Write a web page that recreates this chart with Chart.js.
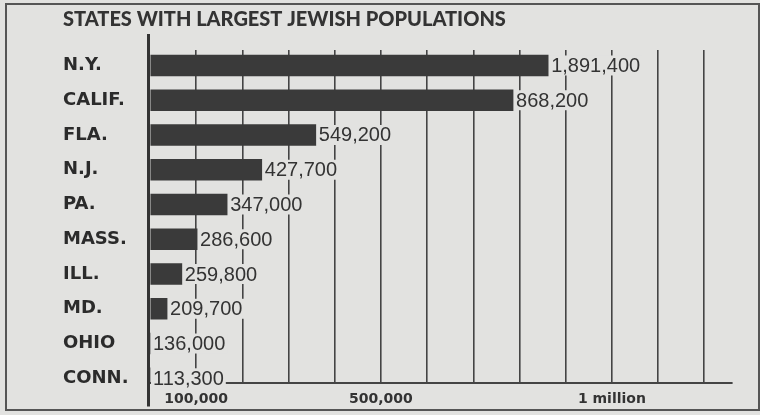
<!DOCTYPE html>
<html><head><meta charset="utf-8">
<script src="https://cdn.jsdelivr.net/npm/chart.js@4.4.1/dist/chart.umd.min.js"></script>
<style>html,body{margin:0;padding:0;background:#e2e2e0;}canvas{display:block;}</style>
</head><body>
<canvas id="c" width="760" height="415"></canvas>
<script>
const titleText = 'STATES WITH LARGEST JEWISH POPULATIONS';
const states = ['N.Y.', 'CALIF.', 'FLA.', 'N.J.', 'PA.', 'MASS.', 'ILL.', 'MD.', 'OHIO', 'CONN.'];
// population figures printed next to the bars
const populations = [1891400, 868200, 549200, 427700, 347000, 286600, 259800, 209700, 136000, 113300];
// bar extents as drawn in the graphic, read against its own x axis
const barExtents = [862000, 786000, 359000, 242000, 167000, 102000, 69000, 37000, 0, 0];
// vertical rules of the x axis, and the ones that carry a label
const gridTicks = [0, 100000, 200000, 300000, 400000, 500000, 600000, 700000, 800000, 900000, 1000000, 1100000, 1200000];
const axisTickValues = [100000, 500000, 1000000];
const axisTickLabels = ['100,000', '500,000', '1 million'];

const BG = '#e2e2e0';
const INK = '#3a3a3a';

const framePlugin = {
  id: 'frame',
  beforeDraw(chart) {
    const ctx = chart.ctx;
    ctx.save();
    ctx.fillStyle = BG;
    ctx.fillRect(0, 0, chart.width, chart.height);
    ctx.strokeStyle = '#555';
    ctx.lineWidth = 2;
    ctx.strokeRect(6, 4, chart.width - 7, chart.height - 4 - 5);
    ctx.restore();
  }
};

const labelPlugin = {
  id: 'valueLabels',
  afterDatasetsDraw(chart) {
    const ctx = chart.ctx;
    const meta = chart.getDatasetMeta(0);
    ctx.save();
    ctx.font = '20px "Liberation Sans", Arial, sans-serif';
    ctx.textBaseline = 'middle';
    ctx.textAlign = 'left';
    meta.data.forEach((bar, i) => {
      const txt = populations[i].toLocaleString('en-US');
      const x = bar.x + 3;
      const y = bar.y;
      const w = ctx.measureText(txt).width;
      ctx.fillStyle = BG;
      ctx.fillRect(x - 2, y - 10, w + 4, 20);
      ctx.fillStyle = '#333';
      ctx.fillText(txt, x, y + 1);
    });
    ctx.restore();
  },
  afterDraw(chart) {
    const ctx = chart.ctx;
    const xs = chart.scales.x;
    const x0 = xs.getPixelForValue(0) - 1.5;
    ctx.save();
    ctx.strokeStyle = '#333';
    ctx.lineWidth = 3;
    ctx.beginPath();
    ctx.moveTo(x0, chart.chartArea.top - 16);
    ctx.lineTo(x0, chart.chartArea.bottom + 24);
    ctx.stroke();
    ctx.restore();
  }
};

new Chart(document.getElementById('c'), {
  type: 'bar',
  data: {
    datasets: [{
      data: barExtents.map((v, i) => ({ x: v, y: i })),
      backgroundColor: INK,
      borderWidth: 0,
      barThickness: 21
    }]
  },
  options: {
    indexAxis: 'y',
    responsive: false,
    animation: false,
    devicePixelRatio: 1,
    layout: { padding: { left: 63, right: 28, top: 0, bottom: 8.4 } },
    plugins: {
      legend: { display: false },
      tooltip: { enabled: false },
      title: {
        display: true,
        text: titleText,
        align: 'start',
        color: '#333',
        font: { family: 'Lato, "DejaVu Sans Condensed", sans-serif', weight: '900', size: 20, lineHeight: 1.2 },
        padding: { top: 7.5, bottom: 18.5 }
      }
    },
    scales: {
      x: {
        type: 'linear',
        position: 'bottom',
        min: 0,
        max: 1260000,
        afterBuildTicks: (scale) => { scale.ticks = gridTicks.map((v) => ({ value: v })); },
        afterFit: (scale) => { scale.height = 24; },
        grid: {
          drawTicks: false,
          lineWidth: 1.6,
          color: (c) => (c.tick && c.tick.value > 0) ? '#444' : 'rgba(0,0,0,0)'
        },
        border: { display: true, color: '#444', width: 2 },
        ticks: {
          autoSkip: false,
          maxRotation: 0,
          padding: 8,
          color: '#333',
          font: { family: '"DejaVu Sans", sans-serif', weight: 'bold', size: 14 },
          callback: (v) => {
            const k = axisTickValues.indexOf(v);
            return k >= 0 ? axisTickLabels[k] : '';
          }
        }
      },
      y: {
        type: 'linear',
        reverse: true,
        offset: false,
        min: -0.445,
        max: 9.124,
        grid: { display: false, drawTicks: false },
        border: { display: false },
        afterBuildTicks: (scale) => { scale.ticks = states.map((s, i) => ({ value: i })); },
        afterFit: (scale) => { scale.width = 87; },
        ticks: {
          autoSkip: false,
          crossAlign: 'far',
          padding: 0,
          color: '#2b2b2b',
          font: { family: '"DejaVu Sans", sans-serif', weight: 'bold', size: 18 },
          callback: (v) => states[v] !== undefined ? states[v] : ''
        }
      }
    }
  },
  plugins: [framePlugin, labelPlugin]
});
</script>
</body></html>
